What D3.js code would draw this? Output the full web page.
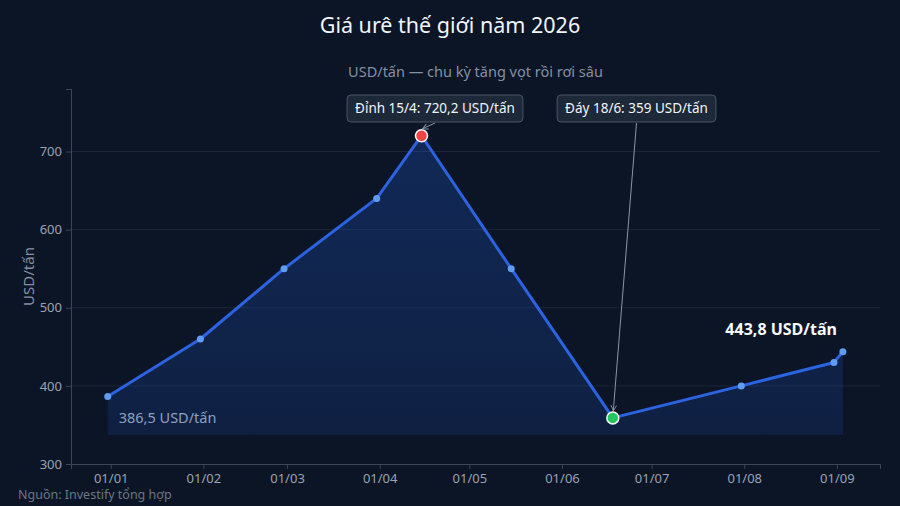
<!DOCTYPE html>
<html>
<head>
<meta charset="utf-8">
<script src="https://cdn.jsdelivr.net/npm/d3@7/dist/d3.min.js"></script>
<style>
  html, body { margin: 0; padding: 0; background: #0b1526; }
  svg { display: block; font-family: "Noto Sans", "Open Sans", sans-serif; }
</style>
</head>
<body>
<svg id="chart"></svg>
<script>
// data
const dates = ["2025-12-31", "2026-01-31", "2026-02-28", "2026-03-31", "2026-04-15",
               "2026-05-15", "2026-06-18", "2026-07-31", "2026-08-31", "2026-09-03"];
const prices = [386.5, 460, 550, 640, 720.2, 550, 359, 400, 430, 443.8];
const yTicks = [300, 400, 500, 600, 700];
const xTickDates = ["2026-01-01", "2026-02-01", "2026-03-01", "2026-04-01", "2026-05-01",
                    "2026-06-01", "2026-07-01", "2026-08-01", "2026-09-01"];

const title = "Giá urê thế giới năm 2026";
const subtitle = "USD/tấn — chu kỳ tăng vọt rồi rơi sâu";
const source = "Nguồn: Investify tổng hợp";
const peakLabel = "Đỉnh 15/4: 720,2 USD/tấn";
const troughLabel = "Đáy 18/6: 359 USD/tấn";
const firstLabel = "386,5 USD/tấn";
const lastLabel = "443,8 USD/tấn";

const W = 900, H = 506;
const margin = { top: 89, right: 20, bottom: 42, left: 71 };
const parse = d3.utcParse("%Y-%m-%d");
const data = dates.map((d, i) => ({ date: parse(d), value: prices[i] }));

const svg = d3.select("#chart").attr("width", W).attr("height", H);
svg.append("rect").attr("width", W).attr("height", H).attr("fill", "#0b1526");

const x = d3.scaleUtc()
    .domain([d3.isoParse("2025-12-18T17:00:00Z"), d3.isoParse("2026-09-15T10:00:00Z")])
    .range([margin.left, W - margin.right]);
const y = d3.scaleLinear()
    .domain([300, 780])
    .range([H - margin.bottom, margin.top]);

// title and subtitle
svg.append("text").attr("x", W / 2).attr("y", 33).attr("text-anchor", "middle")
    .attr("fill", "#f1f5f9").style("font-size", "21.5px").text(title);
svg.append("text").attr("x", (margin.left + W - margin.right) / 2).attr("y", 77)
    .attr("text-anchor", "middle").attr("fill", "#8590a2").style("font-size", "14.5px").text(subtitle);

// grid
svg.append("g").selectAll("line").data(yTicks.slice(1)).join("line")
    .attr("x1", margin.left).attr("x2", W - margin.right)
    .attr("y1", d => y(d)).attr("y2", d => y(d))
    .attr("stroke", "#1b2638").attr("stroke-width", 1);

// area
const minV = d3.min(prices);
const defs = svg.append("defs");
const grad = defs.append("linearGradient").attr("id", "areaGrad")
    .attr("x1", 0).attr("y1", 0).attr("x2", 0).attr("y2", 1);
grad.append("stop").attr("offset", "0%").attr("stop-color", "#2563eb").attr("stop-opacity", 0.25);
grad.append("stop").attr("offset", "100%").attr("stop-color", "#2563eb").attr("stop-opacity", 0.14);

svg.append("path").datum(data)
    .attr("fill", "url(#areaGrad)")
    .attr("d", d3.area().x(d => x(d.date)).y0(y(minV * 0.94)).y1(d => y(d.value)));

// axes
const yAxis = svg.append("g").attr("transform", `translate(${margin.left},0)`)
    .call(d3.axisLeft(y).tickValues(yTicks).tickSize(5).tickPadding(4));
const xAxis = svg.append("g").attr("transform", `translate(0,${H - margin.bottom})`)
    .call(d3.axisBottom(x).tickValues(xTickDates.map(parse)).tickFormat(d3.utcFormat("%d/%m")).tickSize(5).tickPadding(5));
[yAxis, xAxis].forEach(a => {
    a.select(".domain").attr("stroke", "#3a4658");
    a.selectAll(".tick line").attr("stroke", "#3a4658");
    a.selectAll(".tick text").attr("fill", "#9aa3b2").style("font-size", "13px")
        .style("font-family", "'Noto Sans', sans-serif");
});

svg.append("text")
    .attr("transform", `translate(34,${(margin.top + H - margin.bottom) / 2}) rotate(-90)`)
    .attr("text-anchor", "middle").attr("fill", "#8590a2").style("font-size", "15px").text("USD/tấn");

// line
svg.append("path").datum(data)
    .attr("fill", "none").attr("stroke", "#2b63e0").attr("stroke-width", 3)
    .attr("stroke-linejoin", "round")
    .attr("d", d3.line().x(d => x(d.date)).y(d => y(d.value)));

const peak = data[d3.maxIndex(data, d => d.value)];
const trough = data[d3.minIndex(data, d => d.value)];

svg.append("g").selectAll("circle").data(data.filter(d => d !== peak && d !== trough)).join("circle")
    .attr("cx", d => x(d.date)).attr("cy", d => y(d.value)).attr("r", 3.5)
    .attr("fill", "#5f9cf2");

svg.append("circle").attr("cx", x(peak.date)).attr("cy", y(peak.value)).attr("r", 6)
    .attr("fill", "#ef4444").attr("stroke", "#f8fafc").attr("stroke-width", 1.5);
svg.append("circle").attr("cx", x(trough.date)).attr("cy", y(trough.value)).attr("r", 6)
    .attr("fill", "#22c55e").attr("stroke", "#f8fafc").attr("stroke-width", 1.5);

// arrow marker
defs.append("marker").attr("id", "arrow").attr("viewBox", "0 0 10 10")
    .attr("refX", 9).attr("refY", 5).attr("markerWidth", 7).attr("markerHeight", 7)
    .attr("orient", "auto-start-reverse")
    .append("path").attr("d", "M1,1 L9,5 L1,9").attr("fill", "none")
    .attr("stroke", "#8b95a5").attr("stroke-width", 1.3);

function callout(label, cx, boxTop, target) {
    const g = svg.append("g");
    const t = g.append("text").attr("x", cx).attr("y", boxTop + 17.5).attr("text-anchor", "middle")
        .attr("fill", "#f1f5f9").style("font-size", "13.5px").text(label);
    const bb = t.node().getBBox();
    g.insert("rect", "text")
        .attr("x", bb.x - 8).attr("y", boxTop).attr("width", bb.width + 16).attr("height", 27)
        .attr("rx", 4).attr("fill", "#1d2838").attr("stroke", "#4a5567").attr("stroke-width", 1);
    svg.append("line")
        .attr("x1", cx).attr("y1", boxTop + 28)
        .attr("x2", target[0]).attr("y2", target[1])
        .attr("stroke", "#8b95a5").attr("stroke-width", 1)
        .attr("marker-end", "url(#arrow)");
}
callout(peakLabel, 435, 95, [x(peak.date) + 1, y(peak.value) - 7]);
callout(troughLabel, 636.5, 95, [x(trough.date) + 0.5, y(trough.value) - 7]);

// end labels
const first = data[0], last = data[data.length - 1];
svg.append("text").attr("x", x(first.date) + 11).attr("y", y(first.value) + 27)
    .attr("fill", "#8da0c0").style("font-size", "14.5px").text(firstLabel);
svg.append("text").attr("x", x(last.date) - 6).attr("y", y(last.value) - 17)
    .attr("text-anchor", "end").attr("fill", "#f8fafc").style("font-size", "16px")
    .style("font-weight", "bold").text(lastLabel);

svg.append("text").attr("x", 18).attr("y", 499).attr("fill", "#6b7585")
    .style("font-size", "12.5px").text(source);
</script>
</body>
</html>
